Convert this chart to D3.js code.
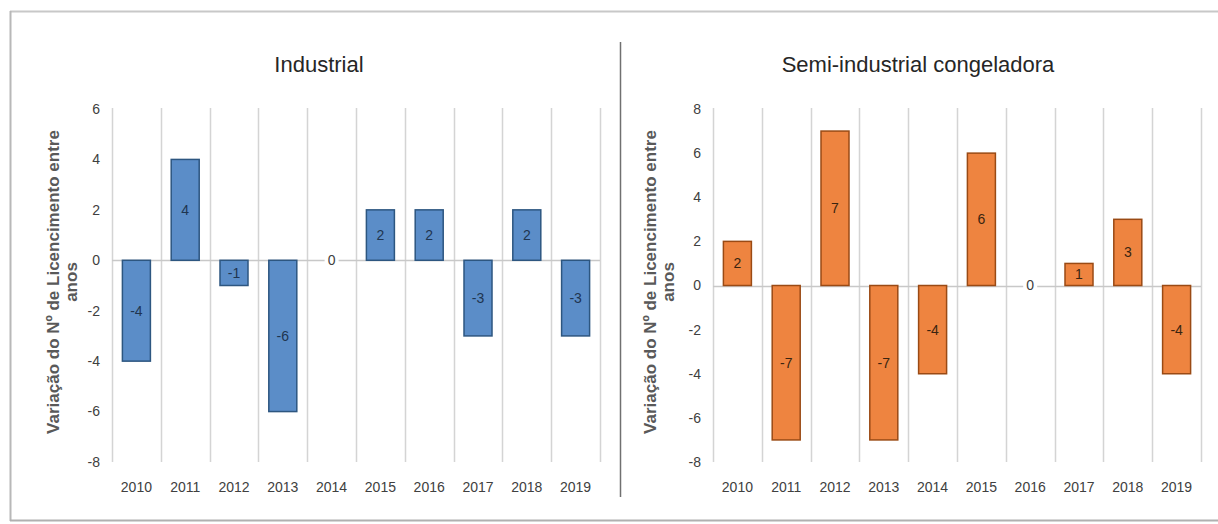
<!DOCTYPE html>
<html>
<head>
<meta charset="utf-8">
<script src="https://cdn.jsdelivr.net/npm/d3@7"></script>
<style>
  html, body { margin: 0; padding: 0; background: #fff; }
  svg { display: block; }
</style>
</head>
<body>
<svg id="chart" width="1218" height="524"></svg>
<script>
// ---- data ----
const years = ["2010","2011","2012","2013","2014","2015","2016","2017","2018","2019"];
const industrialValues = [-4, 4, -1, -6, 0, 2, 2, -3, 2, -3];
const semiValues = [2, -7, 7, -7, -4, 6, 0, 1, 3, -4];
const industrialTicks = [6, 4, 2, 0, -2, -4, -6, -8];
const semiTicks = [8, 6, 4, 2, 0, -2, -4, -6, -8];
const panelTitles = ["Industrial", "Semi-industrial congeladora"];
const yTitleLines = ["Variação do Nº de Licencimento entre", "anos"];

const svg = d3.select("#chart");
const FONT = "'Liberation Sans Narrow', 'Arial Narrow', 'Liberation Sans', sans-serif";

// outer frame
svg.append("line").attr("x1", 10).attr("x2", 1218).attr("y1", 11.5).attr("y2", 11.5)
  .attr("stroke", "#c8c8c8").attr("stroke-width", 2);
svg.append("line").attr("x1", 10.5).attr("x2", 10.5).attr("y1", 11).attr("y2", 521)
  .attr("stroke", "#b8b8b8").attr("stroke-width", 2);
svg.append("line").attr("x1", 10).attr("x2", 1218).attr("y1", 520.5).attr("y2", 520.5)
  .attr("stroke", "#b0b0b0").attr("stroke-width", 2);
// divider
svg.append("line").attr("x1", 620.5).attr("x2", 620.5).attr("y1", 42).attr("y2", 497)
  .attr("stroke", "#707070").attr("stroke-width", 1.5);

function panel(opts) {
  const g = svg.append("g");
  const x = d3.scaleBand().domain(years).range([opts.x0, opts.x1]).paddingInner(0).paddingOuter(0);
  const y = d3.scaleLinear().domain(opts.domain).range([462, 109]);

  // title
  g.append("text").attr("x", opts.titleX).attr("y", 72)
    .attr("text-anchor", "middle").attr("font-family", FONT).attr("font-size", 22)
    .attr("fill", "#262626").text(opts.title);

  // vertical category gridlines
  const bounds = years.map(d => x(d)).concat([opts.x1]);
  g.selectAll(".vg").data(bounds).join("line")
    .attr("x1", d => Math.round(d) + 0.5).attr("x2", d => Math.round(d) + 0.5)
    .attr("y1", 108).attr("y2", 462)
    .attr("stroke", "#d4d4d4").attr("stroke-width", 1.5);

  // y tick labels
  g.selectAll(".yt").data(opts.ticks).join("text")
    .attr("x", opts.x0 - 12).attr("y", d => y(d)).attr("dy", "0.35em")
    .attr("text-anchor", "end").attr("font-family", FONT).attr("font-size", 14)
    .attr("fill", "#404040").text(d => d);

  // x labels
  g.selectAll(".xl").data(years).join("text")
    .attr("x", d => x(d) + x.bandwidth() / 2).attr("y", 492)
    .attr("text-anchor", "middle").attr("font-family", FONT).attr("font-size", 14)
    .attr("fill", "#404040").text(d => d);

  // zero line
  g.append("line").attr("x1", opts.x0).attr("x2", opts.x1)
    .attr("y1", Math.round(y(0)) + 0.5).attr("y2", Math.round(y(0)) + 0.5)
    .attr("stroke", "#c8c8c8").attr("stroke-width", 1.5);

  // bars
  const bw = 28;
  const bars = years.map((d, i) => ({ year: d, v: opts.values[i] }));
  g.selectAll(".bar").data(bars.filter(b => b.v !== 0)).join("rect")
    .attr("x", b => x(b.year) + (x.bandwidth() - bw) / 2)
    .attr("y", b => y(Math.max(0, b.v)))
    .attr("width", bw)
    .attr("height", b => Math.abs(y(b.v) - y(0)))
    .attr("fill", opts.fill).attr("stroke", opts.stroke).attr("stroke-width", 1.5);

  // data labels
  const lab = g.selectAll(".lab").data(bars).join("g")
    .attr("transform", b => `translate(${x(b.year) + x.bandwidth() / 2},${(y(b.v) + y(0)) / 2})`);
  lab.filter(b => b.v === 0).append("rect")
    .attr("x", -7).attr("y", -9).attr("width", 14).attr("height", 18).attr("fill", "#fff");
  lab.append("text").attr("dy", "0.35em").attr("text-anchor", "middle")
    .attr("font-family", FONT).attr("font-size", 14)
    .attr("fill", b => b.v === 0 ? "#404040" : opts.labelColor)
    .text(b => b.v);

  // y axis title
  const yt = g.append("text").attr("transform", `translate(${opts.yTitleX},282) rotate(-90)`)
    .attr("text-anchor", "middle").attr("font-family", FONT).attr("font-size", 17)
    .attr("font-weight", "bold").attr("fill", "#595959");
  yt.selectAll("tspan").data(yTitleLines).join("tspan")
    .attr("x", 0).attr("dy", (d, i) => i === 0 ? 0 : 18).text(d => d);
}

panel({
  x0: 112, x1: 600, domain: [-8, 6], ticks: industrialTicks, values: industrialValues,
  title: panelTitles[0], titleX: 319, yTitleX: 59,
  fill: "#5B8DC8", stroke: "#2D5680", labelColor: "#1f3550"
});
panel({
  x0: 713, x1: 1201, domain: [-8, 8], ticks: semiTicks, values: semiValues,
  title: panelTitles[1], titleX: 918, yTitleX: 656,
  fill: "#EE8440", stroke: "#9A4A14", labelColor: "#3a2410"
});
</script>
</body>
</html>
